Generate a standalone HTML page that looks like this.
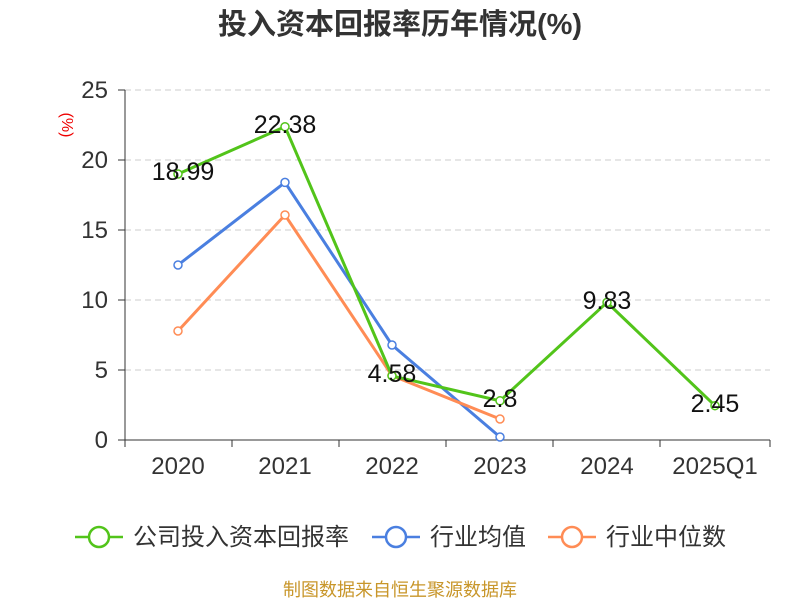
<!DOCTYPE html>
<html><head><meta charset="utf-8"><style>
body{margin:0;background:#fff;}
svg text{font-family:"Liberation Sans","Noto Sans CJK SC",sans-serif;}
</style></head><body>
<svg width="800" height="600" viewBox="0 0 800 600">
<text x="400" y="34" text-anchor="middle" font-size="29" font-weight="bold" fill="#333">投入资本回报率历年情况(%)</text>
<text x="62" y="125" font-size="16" fill="#e00" transform="rotate(90 62 125)" text-anchor="middle">(%)</text>
<g stroke="#ccc" stroke-dasharray="6,4" stroke-width="1">
<line x1="125" y1="90" x2="770" y2="90"/><line x1="125" y1="160" x2="770" y2="160"/>
<line x1="125" y1="230" x2="770" y2="230"/><line x1="125" y1="300" x2="770" y2="300"/>
<line x1="125" y1="370" x2="770" y2="370"/></g>
<g stroke="#333" stroke-width="1">
<line x1="125" y1="90" x2="125" y2="440"/><line x1="125" y1="440" x2="770" y2="440"/>
<line x1="118" y1="90" x2="125" y2="90"/><line x1="118" y1="160" x2="125" y2="160"/><line x1="118" y1="230" x2="125" y2="230"/><line x1="118" y1="300" x2="125" y2="300"/><line x1="118" y1="370" x2="125" y2="370"/><line x1="118" y1="440" x2="125" y2="440"/>
<line x1="125" y1="440" x2="125" y2="447"/><line x1="232" y1="440" x2="232" y2="447"/><line x1="339" y1="440" x2="339" y2="447"/><line x1="446" y1="440" x2="446" y2="447"/><line x1="553" y1="440" x2="553" y2="447"/><line x1="660" y1="440" x2="660" y2="447"/><line x1="770" y1="440" x2="770" y2="447"/>
</g>
<g font-size="24" fill="#333" text-anchor="end">
<text x="108" y="98">25</text><text x="108" y="168">20</text><text x="108" y="238">15</text><text x="108" y="308">10</text><text x="108" y="378">5</text><text x="108" y="448">0</text></g>
<g font-size="24" fill="#333" text-anchor="middle">
<text x="178" y="474">2020</text><text x="285" y="474">2021</text><text x="392" y="474">2022</text><text x="500" y="474">2023</text><text x="607" y="474">2024</text><text x="715" y="474">2025Q1</text></g>
<g fill="#fff" stroke-width="1.5">
<polyline points="178,265 285,182.4 392,345 500,437" fill="none" stroke="#4a7fe0" stroke-width="3"/>
<polyline points="178,331 285,215 392,375.6 500,419" fill="none" stroke="#ff8c55" stroke-width="3"/>
<polyline points="178,174 285,126.7 392,375.9 500,400.8 607,302.4 715,405.7" fill="none" stroke="#52c41a" stroke-width="3"/>
<g stroke="#4a7fe0"><circle cx="178" cy="265" r="4"/><circle cx="285" cy="182.4" r="4"/><circle cx="392" cy="345" r="4"/><circle cx="500" cy="437" r="4"/></g>
<g stroke="#ff8c55"><circle cx="178" cy="331" r="4"/><circle cx="285" cy="215" r="4"/><circle cx="392" cy="375.6" r="4"/><circle cx="500" cy="419" r="4"/></g>
<g stroke="#52c41a"><circle cx="178" cy="174" r="4"/><circle cx="285" cy="126.7" r="4"/><circle cx="392" cy="375.9" r="4"/><circle cx="500" cy="400.8" r="4"/><circle cx="607" cy="302.4" r="4"/><circle cx="715" cy="405.7" r="4"/></g>
</g>
<g font-size="25" fill="#111" text-anchor="middle">
<text x="183" y="180">18.99</text><text x="285" y="133">22.38</text><text x="392" y="382">4.58</text><text x="500" y="407">2.8</text><text x="607" y="309">9.83</text><text x="715" y="412">2.45</text></g>
<g stroke-width="2.5" fill="#fff">
<line x1="75" y1="537" x2="123" y2="537" stroke="#52c41a"/><circle cx="99" cy="537" r="10" stroke="#52c41a"/>
<line x1="372" y1="537" x2="420" y2="537" stroke="#4a7fe0"/><circle cx="396" cy="537" r="10" stroke="#4a7fe0"/>
<line x1="548" y1="537" x2="596" y2="537" stroke="#ff8c55"/><circle cx="572" cy="537" r="10" stroke="#ff8c55"/>
</g>
<g font-size="24" fill="#333">
<text x="133" y="545">公司投入资本回报率</text><text x="430" y="545">行业均值</text><text x="606" y="545">行业中位数</text></g>
<text x="400" y="596" text-anchor="middle" font-size="18" fill="#c8962a">制图数据来自恒生聚源数据库</text>
</svg>
</body></html>
